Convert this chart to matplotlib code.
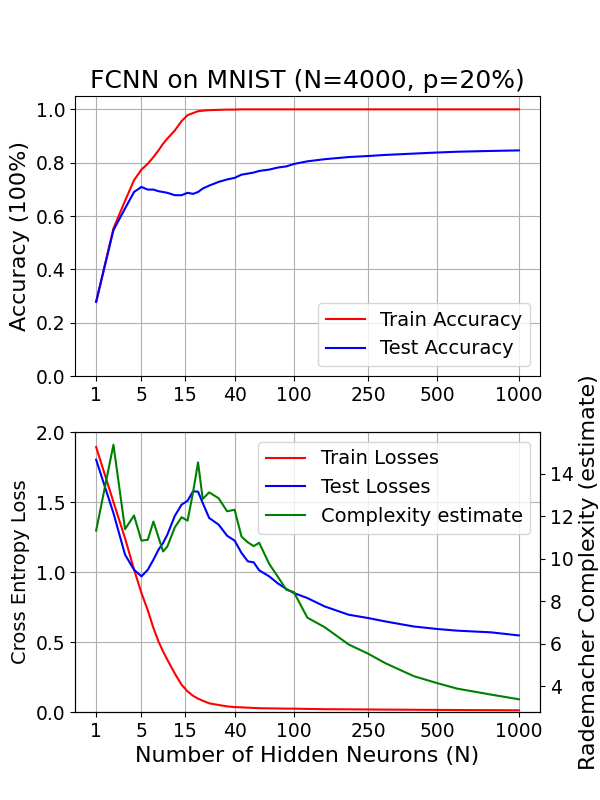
import numpy as np
import matplotlib
matplotlib.use("Agg")
import matplotlib.pyplot as plt

# hidden layer widths
neurons = [1, 2, 3, 4, 5, 6, 7, 8, 9, 10, 12, 14, 16, 18, 20, 22, 25, 30, 35, 40,
           45, 50, 55, 60, 70, 80, 90, 100, 120, 150, 200, 250, 300, 400, 500,
           600, 800, 1000]

train_acc = [0.278, 0.553, 0.657, 0.734, 0.774, 0.796, 0.821, 0.846, 0.871, 0.89,
             0.921, 0.956, 0.978, 0.986, 0.993, 0.995, 0.997, 0.998, 0.999, 0.999,
             1.0, 1.0, 1.0, 1.0, 1.0, 1.0, 1.0, 1.0, 1.0, 1.0, 1.0, 1.0, 1.0, 1.0,
             1.0, 1.0, 1.0, 1.0]
test_acc = [0.278, 0.547, 0.628, 0.69, 0.709, 0.699, 0.699, 0.693, 0.69, 0.687,
            0.678, 0.678, 0.687, 0.683, 0.69, 0.703, 0.714, 0.728, 0.737, 0.743,
            0.755, 0.759, 0.763, 0.769, 0.774, 0.782, 0.786, 0.795, 0.805, 0.813,
            0.821, 0.825, 0.829, 0.834, 0.838, 0.841, 0.844, 0.846]

train_loss = [1.893, 1.50, 1.241, 1.019, 0.85, 0.726, 0.60, 0.504, 0.433, 0.374,
              0.274, 0.195, 0.147, 0.116, 0.095, 0.081, 0.062, 0.05, 0.04, 0.035,
              0.033, 0.031, 0.029, 0.027, 0.026, 0.025, 0.024, 0.024, 0.022, 0.02,
              0.019, 0.018, 0.017, 0.016, 0.015, 0.014, 0.013, 0.012]
test_loss = [1.802, 1.421, 1.124, 1.016, 0.969, 1.016, 1.088, 1.159, 1.207, 1.266,
             1.402, 1.481, 1.509, 1.576, 1.574, 1.493, 1.386, 1.338, 1.259, 1.224,
             1.136, 1.076, 1.069, 1.012, 0.969, 0.917, 0.879, 0.85, 0.814, 0.754,
             0.695, 0.671, 0.647, 0.611, 0.593, 0.581, 0.569, 0.547]
complexity = [11.32, 15.36, 11.39, 12.03, 10.85, 10.89, 11.75, 11.01, 10.34, 10.57,
              11.48, 11.95, 11.79, 13.12, 14.53, 12.81, 13.12, 12.84, 12.23, 12.3,
              11.04, 10.77, 10.59, 10.75, 9.76, 9.13, 8.54, 8.43, 7.23, 6.78,
              5.97, 5.53, 5.09, 4.48, 4.15, 3.89, 3.61, 3.39]

xticks = [1, 5, 15, 40, 100, 250, 500, 1000]


def fwd(x):
    return np.power(np.clip(x, 0, None), 0.25)


def inv(y):
    return np.power(y, 4)


fig, (ax1, ax2) = plt.subplots(2, 1, figsize=(6, 8), dpi=100)

ax1.plot(neurons, train_acc, color='r', label='Train Accuracy')
ax1.plot(neurons, test_acc, color='b', label='Test Accuracy')
ax1.set_xscale('function', functions=(fwd, inv))
ax1.set_xticks(xticks)
ax1.set_xticklabels([str(t) for t in xticks])
ax1.set_ylim(0, 1.05)
ax1.set_ylabel('Accuracy (100%)', fontsize=16)
ax1.set_title('FCNN on MNIST (N=4000, p=20%)', fontsize=18)
ax1.tick_params(labelsize=13.5)
ax1.grid(True)
ax1.legend(loc='lower right', fontsize=14)

l1, = ax2.plot(neurons, train_loss, color='r', label='Train Losses')
l2, = ax2.plot(neurons, test_loss, color='b', label='Test Losses')
ax2.set_xscale('function', functions=(fwd, inv))
ax2.set_xticks(xticks)
ax2.set_xticklabels([str(t) for t in xticks])
ax2.set_ylim(0, 2.0)
ax2.set_ylabel('Cross Entropy Loss', fontsize=14)
ax2.set_xlabel('Number of Hidden Neurons (N)', fontsize=16)
ax2.tick_params(labelsize=13.5)
ax2.grid(True)

ax3 = ax2.twinx()
l3, = ax3.plot(neurons, complexity, color='g', label='Complexity estimate')
ax3.set_ylabel('Rademacher Complexity (estimate)', fontsize=16)
ax3.tick_params(labelsize=13.5)

ax2.legend([l1, l2, l3], [l.get_label() for l in [l1, l2, l3]],
           loc='upper right', fontsize=14)

fig.savefig('out.png')
